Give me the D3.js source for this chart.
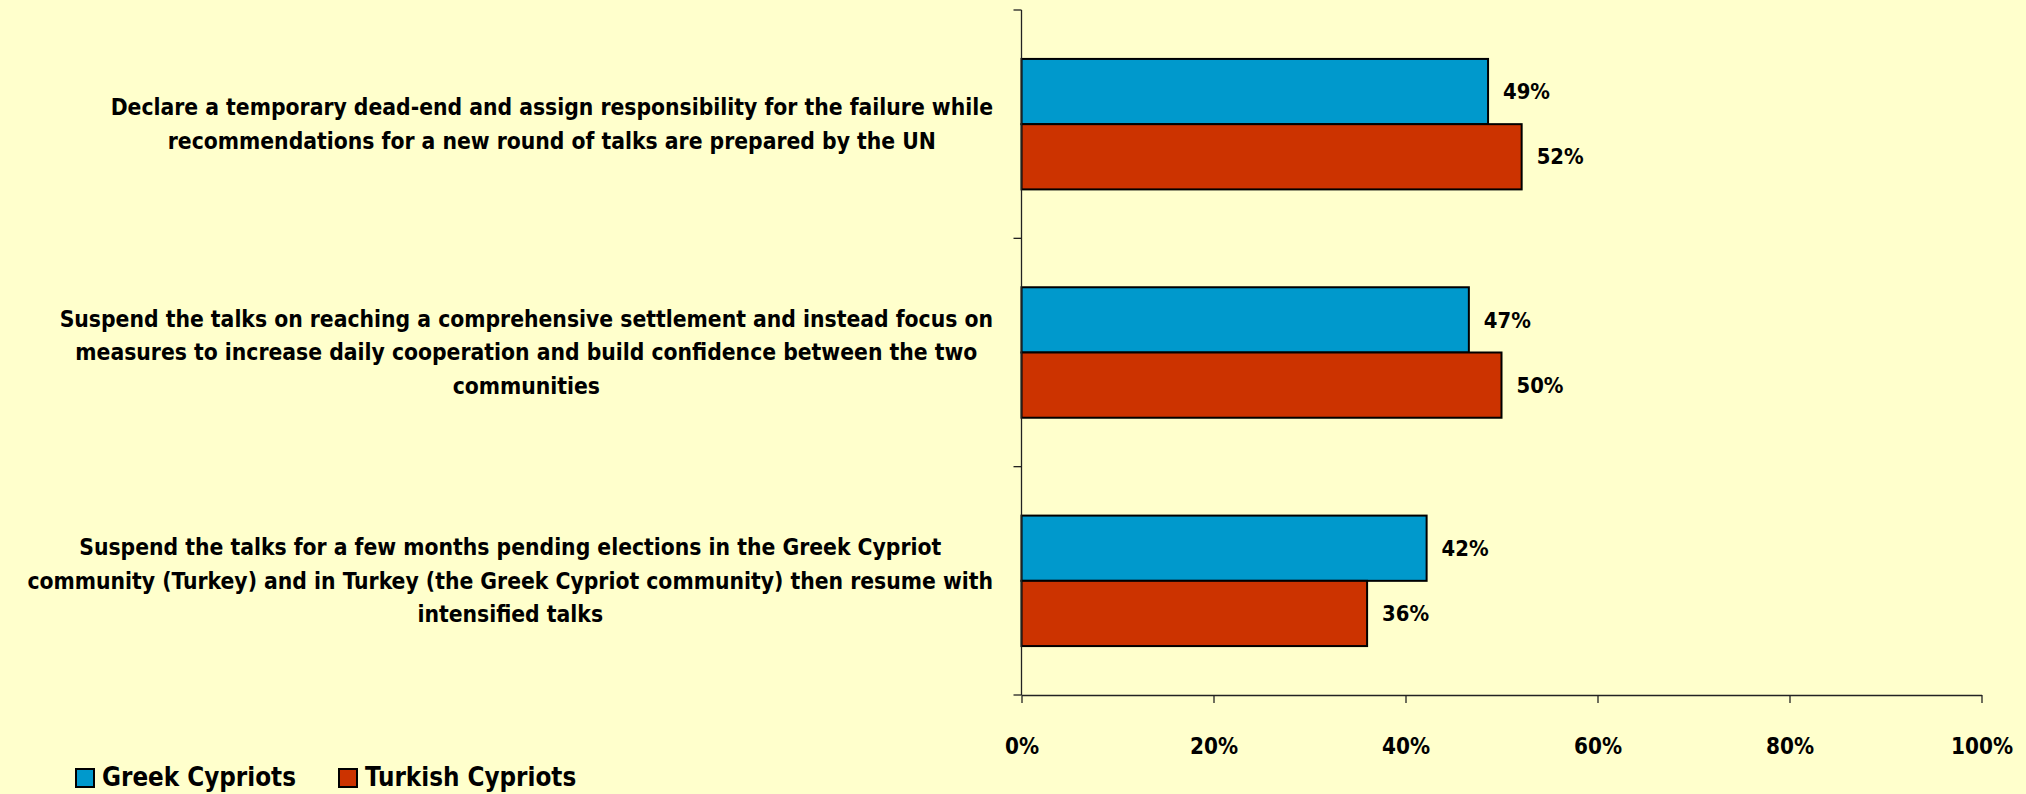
<!DOCTYPE html>
<html>
<head>
<meta charset="utf-8">
<script src="https://cdn.jsdelivr.net/npm/d3@7"></script>
<style>
  html, body { margin: 0; padding: 0; background: #FFFFCC; }
  svg { display: block; }
  text { font-family: "Liberation Sans Narrow", "Arial Narrow", "DejaVu Sans Condensed", "Open Sans", sans-serif; font-weight: bold; fill: #000; }
</style>
</head>
<body>
<svg id="chart" width="2026" height="794"></svg>
<script>
// ---- data ----
const categories = [
  "Declare a temporary dead-end and assign responsibility for the failure while recommendations for a new round of talks are prepared by the UN",
  "Suspend the talks on reaching a comprehensive settlement and instead focus on measures to increase daily cooperation and build confidence between the two communities",
  "Suspend the talks for a few months pending elections in the Greek Cypriot community (Turkey) and in Turkey (the Greek Cypriot community) then resume with intensified talks"
];
const categoryLines = [
  ["Declare a temporary dead-end and assign responsibility for the failure while",
   "recommendations for a new round of talks are prepared by the UN"],
  ["Suspend the talks on reaching a comprehensive settlement and instead focus on",
   "measures to increase daily cooperation and build confidence between the two",
   "communities"],
  ["Suspend the talks for a few months pending elections in the Greek Cypriot",
   "community (Turkey) and in Turkey (the Greek Cypriot community) then resume with",
   "intensified talks"]
];
const seriesNames = ["Greek Cypriots", "Turkish Cypriots"];
const greekCypriots = [48.6, 46.6, 42.2];
const turkishCypriots = [52.1, 50.0, 36.0];
const xTicks = [0, 20, 40, 60, 80, 100];
const colors = ["#0099CC", "#CC3300"];

// ---- layout ----
const svg = d3.select("#chart");
const plot = { left: 1021.5, right: 1981.5, top: 10, bottom: 695 };

// pick a font size so that a sample text gets the width seen in the reference
function fitSize(sample, targetWidth, base) {
  const t = svg.append("text").style("font-size", base + "px").text(sample);
  const w = t.node().getComputedTextLength();
  t.remove();
  return w > 0 ? base * targetWidth / w : base;
}
const labelFont = fitSize(categoryLines[0][0], 883, 25);
const valueFont = fitSize("49%", 47, 25);
const tickFont = fitSize("100%", 62, 25);
const legendFont = fitSize("Greek Cypriots", 194, 27);

const x = d3.scaleLinear().domain([0, 100]).range([plot.left, plot.right]);
const y = d3.scaleBand().domain(d3.range(categories.length)).range([plot.top, plot.bottom]).padding(0);
const inner = d3.scaleBand().domain([0, 1])
  .range([0, y.bandwidth()]).paddingInner(0).paddingOuter(0.75);

const series = [greekCypriots, turkishCypriots];

// bars
series.forEach((vals, s) => {
  svg.append("g").selectAll("rect").data(vals).join("rect")
    .attr("x", x(0))
    .attr("y", (d, i) => y(i) + inner(s))
    .attr("width", d => x(d) - x(0))
    .attr("height", inner.bandwidth())
    .attr("fill", colors[s])
    .attr("stroke", "#000")
    .attr("stroke-width", 2);
  svg.append("g").selectAll("text").data(vals).join("text")
    .attr("x", d => x(d) + 15)
    .attr("y", (d, i) => y(i) + inner(s) + inner.bandwidth() / 2)
    .attr("dy", "0.35em")
    .style("font-size", valueFont + "px")
    .text(d => Math.round(d) + "%");
});

// x axis
const xAxis = d3.axisBottom(x).tickValues(xTicks)
  .tickFormat(d => d + "%").tickSizeInner(8).tickSizeOuter(0).tickPadding(35);
const gx = svg.append("g").attr("transform", `translate(0,${plot.bottom})`).call(xAxis);
gx.select(".domain").attr("stroke", "#222").attr("stroke-width", 1.3);
gx.selectAll(".tick line").attr("stroke", "#222").attr("stroke-width", 1.3);
gx.selectAll(".tick text").style("font-size", tickFont + "px")
  .style("font-family", null).attr("fill", "#000");

// y axis line and ticks at band boundaries
const boundaries = d3.range(categories.length + 1).map(i => plot.top + i * y.step());
svg.append("line").attr("x1", x(0)).attr("x2", x(0))
  .attr("y1", plot.top).attr("y2", plot.bottom)
  .attr("stroke", "#222").attr("stroke-width", 1.3);
svg.append("g").selectAll("line").data(boundaries).join("line")
  .attr("x1", x(0) - 8).attr("x2", x(0))
  .attr("y1", d => d).attr("y2", d => d)
  .attr("stroke", "#222").attr("stroke-width", 1.3);

// category labels (block right-aligned, lines centered)
const labelRight = 993, lineGap = 33.5;
categoryLines.forEach((lines, i) => {
  const g = svg.append("g");
  const cy = y(i) + y.bandwidth() / 2;
  const texts = g.selectAll("text").data(lines).join("text")
    .attr("text-anchor", "middle")
    .attr("y", (d, k) => cy + (k - (lines.length - 1) / 2) * lineGap)
    .attr("dy", "0.35em")
    .style("font-size", labelFont + "px")
    .text(d => d);
  let w = 0;
  texts.each(function () { w = Math.max(w, this.getComputedTextLength()); });
  texts.attr("x", labelRight - w / 2);
});

// legend
const legend = svg.append("g");
const legendItems = [76, 339];
seriesNames.forEach((name, s) => {
  legend.append("rect").attr("x", legendItems[s]).attr("y", 769)
    .attr("width", 18).attr("height", 18)
    .attr("fill", colors[s]).attr("stroke", "#000").attr("stroke-width", 2);
  legend.append("text").attr("x", legendItems[s] + 26).attr("y", 786)
    .style("font-size", legendFont + "px").text(name);
});
</script>
</body>
</html>
